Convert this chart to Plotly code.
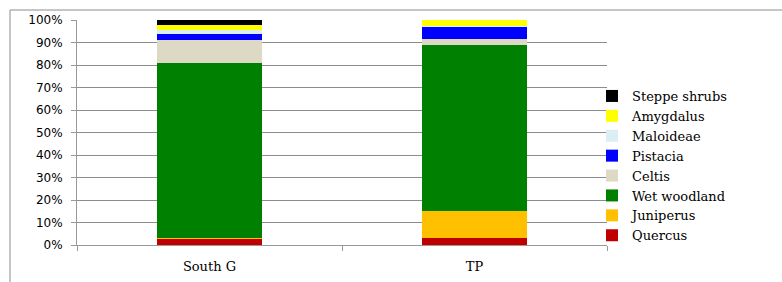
import plotly.graph_objects as go

categories = ["South G", "TP"]
series_names = ["Quercus", "Juniperus", "Wet woodland", "Celtis", "Pistacia",
                "Maloideae", "Amygdalus", "Steppe shrubs"]
quercus = [2.7, 3.3]
juniperus = [0.4, 12.0]
wet_woodland = [77.7, 73.6]
celtis = [10.3, 2.5]
pistacia = [2.7, 5.6]
maloideae = [1.8, 0.3]
amygdalus = [2.2, 2.7]
steppe_shrubs = [2.2, 0.0]
colors = ["#C00000", "#FFC000", "#008000", "#DDD9C4", "#0000FF",
          "#DAEEF3", "#FFFF00", "#000000"]
y_ticks = [0, 10, 20, 30, 40, 50, 60, 70, 80, 90, 100]

values = [quercus, juniperus, wet_woodland, celtis, pistacia,
          maloideae, amygdalus, steppe_shrubs]

fig = go.Figure()
for name, vals, col in zip(series_names, values, colors):
    fig.add_trace(go.Bar(x=categories, y=vals, name=name,
                         marker=dict(color=col, line=dict(width=0)),
                         width=0.396))

L, R, T, B = 77, 175, 20, 37
W, H = 782, 282
pw, ph = W - L - R, H - T - B

def px_x(p):
    return (p - L) / pw

def px_y(p):
    return (H - B - p) / ph

fig.update_layout(
    width=W, height=H,
    margin=dict(l=L, r=R, t=T, b=B, pad=0, autoexpand=False),
    barmode="stack",
    plot_bgcolor="white", paper_bgcolor="white",
    showlegend=True,
    legend=dict(traceorder="reversed", x=px_x(592), xanchor="left",
                y=px_y(81), yanchor="top",
                font=dict(family="DejaVu Serif", size=13, color="black"),
                itemwidth=30, tracegroupgap=0, bgcolor="rgba(0,0,0,0)"),
    xaxis=dict(showgrid=False, showline=True, linecolor="#999999", linewidth=1,
               ticks="outside", tickson="boundaries", ticklen=5, tickcolor="#999999",
               ticklabelstandoff=9, automargin=False,
               tickfont=dict(family="DejaVu Serif", size=13, color="black"),
               range=[-0.5, 1.5]),
    yaxis=dict(range=[0, 100], tickvals=y_ticks,
               ticktext=[f"{v}%" for v in y_ticks],
               showgrid=True, gridcolor="#8C8C8C", gridwidth=1,
               showline=True, linecolor="#999999", linewidth=1,
               ticks="outside", ticklen=5, tickcolor="#999999",
               ticklabelstandoff=6, automargin=False,
               tickfont=dict(family="DejaVu Sans", size=12, color="black"),
               zeroline=False),
    shapes=[
        dict(type="line", xref="paper", yref="paper",
             x0=px_x(10), x1=px_x(790), y0=px_y(10), y1=px_y(10),
             line=dict(color="#8C8C8C", width=1)),
        dict(type="line", xref="paper", yref="paper",
             x0=px_x(10), x1=px_x(10), y0=px_y(10), y1=px_y(290),
             line=dict(color="#8C8C8C", width=1)),
    ],
)

fig.write_html("out.html", config={"displayModeBar": False},
               post_script="document.body.style.margin='0';document.body.style.overflow='hidden';")
